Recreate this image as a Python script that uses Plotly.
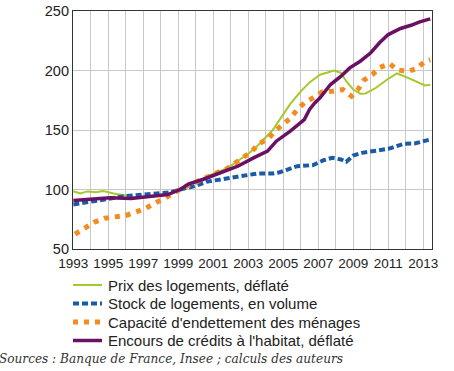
import plotly.graph_objects as go

# Prix des logements, déflaté
prix_x = [1993.0, 1993.4, 1993.8, 1994.3, 1994.7, 1995.3, 1996.0, 1996.5, 1997.0, 1997.5, 1998.0, 1998.5,
          1999.0, 1999.5, 2000.0, 2000.8, 2001.8, 2002.5, 2003.0, 2003.5, 2004.0, 2004.4, 2004.9, 2005.4,
          2006.0, 2006.5, 2007.1, 2007.9, 2008.3, 2008.6, 2009.0, 2009.4, 2009.7, 2010.3, 2010.9, 2011.5,
          2012.1, 2012.8, 2013.1, 2013.4]
prix_y = [98.5, 96.6, 98.4, 97.7, 98.8, 96.6, 95.0, 93.5, 93.5, 94.0, 95.0, 96.5,
          99.5, 102.5, 106, 112, 118, 125, 130, 136.4, 144, 150, 161, 172,
          182.5, 190, 196.5, 200, 198, 191, 184, 180.5, 180.7, 185.5, 192, 197.5,
          194, 189.7, 187.4, 188]

# Stock de logements, en volume
stock_x = [1993.0, 1994.0, 1995.0, 1996.0, 1997.0, 1998.0, 1998.5, 1999.1, 1999.6, 2000.0, 2000.6, 2001.6,
           2002.5, 2003.5, 2004.4, 2004.8, 2005.2, 2005.8, 2006.7, 2007.3, 2007.8, 2008.3, 2008.6, 2009.0,
           2009.5, 2010.4, 2011.0, 2011.9, 2012.5, 2013.4]
stock_y = [87.4, 89.7, 92.3, 94.5, 95.8, 97, 97.5, 100, 101.5, 103, 106.5, 109,
           111.2, 113.4, 113.4, 114.5, 116.5, 119.6, 120.5, 124.6, 126.6, 125.2, 123.3, 128.6,
           130.8, 132.8, 134.2, 138.4, 138.7, 142]

# Capacité d'endettement des ménages
capa_x = [1993.1, 1993.7, 1994.2, 1994.8, 1995.4, 1996.0, 1996.5, 1997.1, 1997.6, 1998.2, 1998.7, 1999.2,
          1999.7, 2000.2, 2000.7, 2001.2, 2001.7, 2002.2, 2002.7, 2003.2, 2003.6, 2004.1, 2004.5, 2004.9,
          2005.4, 2005.8, 2006.2, 2006.7, 2007.2, 2007.8, 2008.4, 2008.9, 2009.3, 2009.6, 2010.1, 2010.5,
          2011.1, 2011.5, 2012.1, 2012.6, 2013.1, 2013.4]
capa_y = [62.5, 67.8, 72.5, 75.9, 76.7, 78.2, 80.7, 84, 88, 92.4, 96.5, 101,
          104.5, 108, 111.2, 114, 116.8, 121.8, 126.3, 131.9, 138.6, 142, 148.7, 154.3,
          159.9, 167.2, 172.8, 177, 181.8, 182.6, 184, 178.4, 184.6, 191.8, 196.6, 202.5,
          205.6, 200.6, 199.2, 201.4, 207.6, 209]

# Encours de crédits à l'habitat, déflaté
encours_x = [1993.0, 1994.0, 1995.1, 1996.3, 1997.4, 1998.4, 1999.1, 1999.6, 2000.4, 2001.4, 2002.4, 2003.3,
             2004.1, 2004.6, 2005.4, 2006.2, 2006.5, 2006.8, 2007.1, 2007.7, 2008.3, 2008.8, 2009.4, 2010.0,
             2010.5, 2011.0, 2011.7, 2012.3, 2012.8, 2013.4]
encours_y = [90.8, 91.6, 93, 92.4, 93.9, 95.8, 100, 104.8, 108.4, 114, 119.6, 126.6,
             132.2, 140.6, 149, 158.8, 167.2, 172.8, 177, 188.2, 195.2, 202.2, 207.8, 214.9,
             223.3, 230.2, 235.3, 238, 240.9, 243.4]

series_names = ["Prix des logements, déflaté", "Stock de logements, en volume",
                "Capacité d'endettement des ménages", "Encours de crédits à l'habitat, déflaté"]
source_text = "Sources : Banque de France, Insee ; calculs des auteurs"

years = list(range(1993, 2014))
year_labels = [str(y) if (y - 1993) % 2 == 0 else "" for y in years]
y_ticks = [50, 100, 150, 200, 250]

FONT = "Liberation Sans"
styles = [dict(color="#a4c92a", width=2),
          dict(color="#1b5aa8", width=4, dash="6px,3px"),
          dict(color="#f58b1f", width=5, dash="5px,6px"),
          dict(color="#6b1163", width=3.5)]

# plot area geometry in px
L, R, T, B = 73, 22, 11, 122
W, H = 454, 371
PW, PH = W - L - R, H - T - B

def px_x(px):
    return (px - L) / PW

def px_y(py):
    return (H - B - py) / PH

fig = go.Figure()
for xs, ys, name, st in zip([prix_x, stock_x, capa_x, encours_x],
                            [prix_y, stock_y, capa_y, encours_y], series_names, styles):
    fig.add_trace(go.Scatter(x=xs, y=ys, mode="lines", name=name, line=st, showlegend=False,
                             hoverinfo="skip"))

fig.add_shape(type="line", xref="paper", x0=0, x1=1, yref="y", y0=100, y1=100,
              line=dict(color="#222222", width=1.2), layer="below")

# legend (manual, to match row spacing)
rows_py = [285, 303.5, 322, 340.5]
for name, st, py in zip(series_names, styles, rows_py):
    fig.add_shape(type="line", xref="paper", yref="paper", x0=px_x(73), x1=px_x(102),
                  y0=px_y(py), y1=px_y(py), line=st)
    fig.add_annotation(text=name, xref="paper", yref="paper", x=px_x(106), y=px_y(py),
                       xanchor="left", yanchor="middle", showarrow=False,
                       font=dict(family=FONT, size=15, color="#222222"))

fig.add_annotation(text="<i>" + source_text + "</i>",
                   xref="paper", yref="paper", x=px_x(-3), y=px_y(359), xanchor="left", yanchor="middle",
                   showarrow=False, font=dict(family="DejaVu Serif", size=12.1, color="#333333"))

fig.update_layout(
    width=W, height=H,
    margin=dict(l=L, r=R, t=T, b=B),
    paper_bgcolor="white", plot_bgcolor="white",
    font=dict(family=FONT, size=13.5, color="#222222"),
    showlegend=False,
    xaxis=dict(range=[1992.98, 2013.5], tickmode="array", tickvals=years, ticktext=year_labels,
               showgrid=True, gridcolor="#c8c8c8", gridwidth=1.3, zeroline=False,
               showline=True, linecolor="#333333", linewidth=1.2, mirror=True, ticks="",
               automargin=False, tickfont=dict(size=13.5), ticklabelstandoff=2),
    yaxis=dict(range=[50, 250], tickmode="array", tickvals=y_ticks,
               showgrid=True, gridcolor="#c8c8c8", gridwidth=1.3, zeroline=False,
               showline=True, linecolor="#333333", linewidth=1.2, mirror=True, ticks="",
               automargin=False, tickfont=dict(size=14.5)),
)

fig.write_html("out.html", config={"displayModeBar": False},
               post_script="document.body.style.margin='0';document.body.style.overflow='hidden';")
